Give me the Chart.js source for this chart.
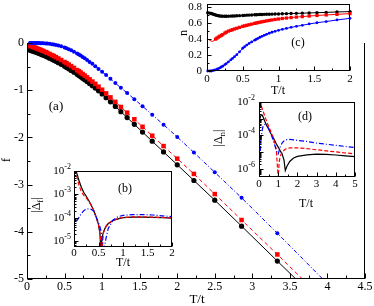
<!DOCTYPE html>
<html>
<head>
<meta charset="utf-8">
<script src="https://cdn.jsdelivr.net/npm/chart.js@4"></script>
<style>
  html, body { margin: 0; padding: 0; background: #fff; }
  #wrap { position: relative; width: 374px; height: 306px; }
  #wrap canvas { position: absolute; left: 0; top: 0; }
</style>
</head>
<body>
<div id="wrap">
  <canvas id="mainChart" width="374" height="306"></canvas>
  <canvas id="dfChart" width="374" height="306"></canvas>
  <canvas id="fillChart" width="374" height="306"></canvas>
  <canvas id="dnChart" width="374" height="306"></canvas>
</div>
<script>
/* ===============================
   DATA
================================ */
// (a) free energy f vs T/t
const tMain = [0.04, 0.06, 0.08, 0.10, 0.12, 0.14, 0.16, 0.18, 0.20, 0.22,
  0.25, 0.27, 0.30, 0.333, 0.357, 0.385, 0.417, 0.455, 0.5, 0.526,
  0.556, 0.588, 0.625, 0.667, 0.69, 0.714, 0.741, 0.769, 0.8, 0.833,
  0.87, 0.909, 0.952, 1.0, 1.053, 1.111, 1.176, 1.25, 1.333, 1.429,
  1.538, 1.667, 1.818, 2.0, 2.222, 2.5, 2.857, 3.333, 3.8, 4.2];
const fBlack = [-0.151, -0.162, -0.173, -0.185, -0.197, -0.209, -0.222, -0.235, -0.248, -0.262,
  -0.283, -0.298, -0.321, -0.346, -0.366, -0.389, -0.417, -0.451, -0.493, -0.518,
  -0.547, -0.580, -0.618, -0.664, -0.689, -0.716, -0.748, -0.781, -0.818, -0.859,
  -0.906, -0.956, -1.014, -1.08, -1.160, -1.247, -1.344, -1.455, -1.580, -1.724,
  -1.887, -2.081, -2.307, -2.58, -2.913, -3.33, -3.88, -4.62, -5.34, -5.96];
const fRed = [-0.061, -0.072, -0.083, -0.095, -0.107, -0.119, -0.132, -0.145, -0.158, -0.172,
  -0.193, -0.208, -0.231, -0.256, -0.276, -0.299, -0.327, -0.361, -0.403, -0.428,
  -0.457, -0.490, -0.528, -0.574, -0.599, -0.626, -0.658, -0.691, -0.728, -0.769,
  -0.816, -0.866, -0.924, -0.99, -1.067, -1.152, -1.247, -1.355, -1.476, -1.616,
  -1.775, -1.964, -2.184, -2.45, -2.774, -3.20, -3.75, -4.48, -5.21, -5.83];
const fBlue = [0.0, 0.0, 0.0, 0.0, -0.001, -0.001, -0.002, -0.003, -0.004, -0.006,
  -0.009, -0.012, -0.018, -0.026, -0.033, -0.042, -0.054, -0.071, -0.095, -0.111,
  -0.131, -0.155, -0.184, -0.22, -0.243, -0.267, -0.295, -0.325, -0.36, -0.40,
  -0.44, -0.49, -0.55, -0.61, -0.68, -0.76, -0.85, -0.95, -1.06, -1.19,
  -1.34, -1.52, -1.73, -1.99, -2.32, -2.74, -3.28, -4.03, -4.78, -5.42];

// (c) filling n vs T/t
const tFill = [0.01, 0.04, 0.06, 0.08, 0.10, 0.12, 0.14, 0.16, 0.18, 0.20, 0.22,
  0.25, 0.27, 0.30, 0.333, 0.357, 0.385, 0.417, 0.455, 0.5, 0.526,
  0.556, 0.588, 0.625, 0.667, 0.69, 0.714, 0.741, 0.769, 0.8, 0.833,
  0.87, 0.909, 0.952, 1.0, 1.053, 1.111, 1.176, 1.25, 1.333, 1.429,
  1.538, 1.667, 1.818, 2.0];
const nBlack = [0.73, 0.725, 0.72, 0.714, 0.708, 0.702, 0.697, 0.693, 0.69, 0.688, 0.687,
  0.686, 0.686, 0.687, 0.688, 0.689, 0.69, 0.692, 0.694, 0.696, 0.698,
  0.70, 0.701, 0.703, 0.705, 0.706, 0.707, 0.708, 0.709, 0.71, 0.711,
  0.712, 0.713, 0.714, 0.715, 0.717, 0.719, 0.721, 0.723, 0.725, 0.728,
  0.731, 0.735, 0.74, 0.745];
const nRed = [0.40, 0.385, 0.375, 0.372, 0.38, 0.40, 0.413, 0.425, 0.436, 0.447, 0.457,
  0.475, 0.487, 0.50, 0.51, 0.518, 0.527, 0.536, 0.547, 0.56, 0.566,
  0.573, 0.58, 0.588, 0.597, 0.602, 0.607, 0.612, 0.617, 0.622, 0.628,
  0.634, 0.64, 0.646, 0.652, 0.658, 0.664, 0.67, 0.676, 0.682, 0.689,
  0.696, 0.703, 0.71, 0.72];
const nBlue = [0.0, 0.0, 0.0, 0.005, 0.01, 0.015, 0.022, 0.03, 0.04, 0.05, 0.06,
  0.08, 0.093, 0.115, 0.14, 0.158, 0.18, 0.205, 0.24, 0.285, 0.305,
  0.325, 0.345, 0.365, 0.387, 0.398, 0.41, 0.423, 0.435, 0.447, 0.46,
  0.473, 0.486, 0.498, 0.51, 0.522, 0.534, 0.547, 0.56, 0.573, 0.59,
  0.605, 0.62, 0.64, 0.66];

// (b) |Delta_f| vs T/t
const tDf = [0.02, 0.05, 0.1, 0.15, 0.2, 0.25, 0.3, 0.35, 0.4, 0.45, 0.5, 0.53, 0.55,
  0.57, 0.6, 0.65, 0.7, 0.8, 0.9, 1.0, 1.2, 1.4, 1.6, 1.8, 2.0];
const dfBlack = [1.2e-2, 8.9e-3, 4e-3, 2e-3, 1.2e-3, 8.3e-4, 5.4e-4, 3.5e-4, 2.1e-4, 1.1e-4, 5e-5, 2e-5, 3e-6,
  1.3e-5, 2.4e-5, 4.2e-5, 5.6e-5, 7.6e-5, 8.9e-5, 1e-4, 1.05e-4, 1.05e-4, 1.02e-4, 1e-4, 9.5e-5];
const dfRed = [1.1e-2, 7e-3, 2.5e-3, 1.3e-3, 9e-4, 7e-4, 5e-4, 3.4e-4, 2.1e-4, 1.1e-4, 5e-5, 2.2e-5, 8e-6,
  3e-6, 2.2e-5, 4e-5, 5.5e-5, 7.8e-5, 9.2e-5, 1.02e-4, 1.08e-4, 1.08e-4, 1.05e-4, 1.02e-4, 9.8e-5];
const dfBlue = [null, 7e-5, 1e-4, 1.5e-4, 2e-4, 2.3e-4, 2.4e-4, 2.3e-4, 1.9e-4, 1.1e-4, 6e-5, 4e-5, 2.8e-5,
  1.5e-5, 3e-6, 1.2e-5, 3.5e-5, 8e-5, 1.1e-4, 1.25e-4, 1.35e-4, 1.35e-4, 1.3e-4, 1.2e-4, 1.1e-4];

// (d) |Delta_n| vs T/t
const tDn = [0.02, 0.05, 0.1, 0.15, 0.2, 0.3, 0.4, 0.5, 0.6, 0.7, 0.8, 0.9, 1.0, 1.05,
  1.1, 1.2, 1.3, 1.37, 1.45, 1.6, 1.8, 2.0, 2.5, 3.0, 3.5, 4.0, 4.5, 5.0];
const dnBlack = [8e-4, 1.1e-3, 1.6e-3, 1.7e-3, 1.4e-3, 7e-4, 4e-4, 2.5e-4, 1.4e-4, 9e-5, 5.6e-5, 3.2e-5, 2e-5, 1.6e-5,
  1.25e-5, 8e-6, 3.5e-6, 8e-7, 1.4e-6, 2.8e-6, 4.5e-6, 5.6e-6, 7e-6, 7.6e-6, 7.4e-6, 6.8e-6, 6e-6, 5.4e-6];
const dnRed = [1.25e-2, 9e-3, 6.3e-3, 4.5e-3, 3.2e-3, 1.4e-3, 7e-4, 3.5e-4, 1.9e-4, 1e-4, 4.5e-5, 1.4e-5, 3e-7, 2.5e-6,
  5.6e-6, 1e-5, 1.3e-5, 1.5e-5, 1.65e-5, 1.8e-5, 1.8e-5, 1.8e-5, 1.65e-5, 1.4e-5, 1.2e-5, 1.05e-5, 9e-6, 8e-6];
const dnBlue = [3e-6, 5e-6, 5e-5, 1.6e-4, 3.2e-4, 4.5e-4, 4e-4, 2.5e-4, 1.4e-4, 7e-5, 3.2e-5, 1.25e-5, 8e-6, 1.25e-5,
  2e-5, 3.5e-5, 4.7e-5, 5.2e-5, 5.6e-5, 5.8e-5, 5.5e-5, 5.1e-5, 4.4e-5, 3.5e-5, 3e-5, 2.6e-5, 2.2e-5, 1.9e-5];

// tick labels
const mainXTicks = [0, 0.5, 1, 1.5, 2, 2.5, 3, 3.5, 4, 4.5];
const mainYTicks = [0, -1, -2, -3, -4, -5];
const fillXTicks = [0, 0.5, 1, 1.5, 2];
const fillYTicks = [0, 0.2, 0.4, 0.6, 0.8];
const dfXTicks = [0, 0.5, 1, 1.5, 2];
const dfYExp = [-2, -3, -4, -5];
const dnXTicks = [0, 1, 2, 3, 4, 5];
const dnYExp = [-2, -4, -6];

/* ===============================
   STYLE
================================ */
const BLACK = "#000000";
const RED = "#ff0000";
const BLUE = "#0000ff";
const FONT = '"Liberation Serif", "Times New Roman", serif';

/* ===============================
   TEXT HELPERS
================================ */
function drawRich(ctx, parts, x, y, size, align) {
  const small = Math.round(size * 0.72);
  let total = 0;
  parts.forEach((p) => {
    ctx.font = `${p.sup || p.sub ? small : size}px ${FONT}`;
    p.w = ctx.measureText(p.t).width;
    total += p.w;
  });
  let cx = align === "right" ? x - total : align === "center" ? x - total / 2 : x;
  ctx.textAlign = "left";
  ctx.textBaseline = "middle";
  parts.forEach((p) => {
    ctx.font = `${p.sup || p.sub ? small : size}px ${FONT}`;
    const dy = p.sup ? -size * 0.38 : p.sub ? size * 0.3 : 0;
    ctx.fillText(p.t, cx, y + dy);
    cx += p.w;
  });
}

function drawVertical(ctx, parts, x, y, size) {
  ctx.save();
  ctx.translate(x, y);
  ctx.rotate(-Math.PI / 2);
  drawRich(ctx, parts, 0, 0, size, "center");
  ctx.restore();
}

/* ===============================
   FRAME / TICKS PLUGIN
================================ */
const framePlugin = {
  id: "frame",
  beforeDraw(chart, args, o) {
    if (!o.fill) return;
    const { ctx, chartArea: a } = chart;
    ctx.save();
    ctx.fillStyle = "#ffffff";
    ctx.fillRect(a.left, a.top, a.right - a.left, a.bottom - a.top);
    ctx.restore();
  },
  afterDraw(chart, args, o) {
    const { ctx, chartArea: a } = chart;
    const xs = chart.scales.x;
    const ys = chart.scales.y;
    const L = Math.round(a.left) + 0.5;
    const R = Math.round(a.right) - 0.5;
    const T = Math.round(a.top) + 0.5;
    const B = Math.round(a.bottom) - 0.5;

    ctx.save();
    ctx.strokeStyle = BLACK;
    ctx.lineWidth = 1;
    ctx.setLineDash([]);
    ctx.beginPath();
    if (o.sides.includes("left")) { ctx.moveTo(L, T - 0.5); ctx.lineTo(L, B + 0.5); }
    if (o.sides.includes("right")) { ctx.moveTo(R, T - 0.5); ctx.lineTo(R, B + 0.5); }
    if (o.sides.includes("top")) { ctx.moveTo(L - 0.5, T); ctx.lineTo(R + 0.5, T); }
    if (o.sides.includes("bottom")) { ctx.moveTo(L - 0.5, B); ctx.lineTo(R + 0.5, B); }

    // x ticks (inward)
    o.xTicks.forEach((v, i) => {
      const px = Math.round(xs.getPixelForValue(v)) + 0.5;
      ctx.moveTo(px, B); ctx.lineTo(px, B - o.major);
      if (i < o.xTicks.length - 1) {
        const mx = Math.round(xs.getPixelForValue((v + o.xTicks[i + 1]) / 2)) + 0.5;
        ctx.moveTo(mx, B); ctx.lineTo(mx, B - o.minor);
      }
    });

    // y ticks (inward)
    if (o.logY) {
      const lo = Math.floor(Math.log10(ys.min));
      const hi = Math.ceil(Math.log10(ys.max));
      for (let e = lo; e <= hi; e++) {
        for (let m = 1; m <= 9; m++) {
          const v = m * Math.pow(10, e);
          if (v < ys.min * 0.999 || v > ys.max * 1.001) continue;
          const py = Math.round(ys.getPixelForValue(v)) + 0.5;
          ctx.moveTo(L, py); ctx.lineTo(L + (m === 1 ? o.major : o.minor), py);
        }
      }
    } else {
      o.yTicks.forEach((v, i) => {
        const py = Math.round(ys.getPixelForValue(v)) + 0.5;
        ctx.moveTo(L, py); ctx.lineTo(L + o.major, py);
        if (i < o.yTicks.length - 1) {
          const my = Math.round(ys.getPixelForValue((v + o.yTicks[i + 1]) / 2)) + 0.5;
          ctx.moveTo(L, my); ctx.lineTo(L + o.minor, my);
        }
      });
    }
    ctx.stroke();

    // tick labels
    ctx.fillStyle = BLACK;
    ctx.font = `${o.size}px ${FONT}`;
    ctx.textAlign = "center";
    ctx.textBaseline = "top";
    o.xTicks.forEach((v) => {
      ctx.fillText(String(v), xs.getPixelForValue(v), a.bottom + o.xGap);
    });
    if (o.logY) {
      o.yTicks.forEach((e) => {
        drawRich(ctx, [{ t: "10" }, { t: String(e), sup: true }],
          a.left - o.yGap, ys.getPixelForValue(Math.pow(10, e)), o.size, "right");
      });
    } else {
      ctx.textAlign = "right";
      ctx.textBaseline = "middle";
      o.yTicks.forEach((v) => {
        ctx.fillText(String(v), a.left - o.yGap, ys.getPixelForValue(v));
      });
    }

    // titles and panel tag
    drawRich(ctx, [{ t: "T/t" }], o.xTitle[0], o.xTitle[1], o.titleSize, "center");
    drawVertical(ctx, o.yTitle.parts, o.yTitle.x, o.yTitle.y, o.titleSize);
    drawRich(ctx, [{ t: o.tag[0] }], o.tag[1], o.tag[2], o.titleSize, "center");
    ctx.restore();
  },
};

/* ===============================
   CHART BUILDERS
================================ */
function series(ts, vals, color, dash, width, pt) {
  return {
    data: ts.map((t, i) => ({ x: t, y: vals[i] })),
    borderColor: color,
    backgroundColor: color,
    pointBackgroundColor: color,
    borderWidth: width,
    borderDash: dash,
    pointStyle: pt.style || "circle",
    pointRadius: pt.radius || 0,
    pointBorderWidth: 0,
    tension: 0,
    spanGaps: false,
    clip: pt.clip === undefined ? 0 : pt.clip,
  };
}

function makeChart(id, datasets, xScale, yScale, padding, frame) {
  return new Chart(document.getElementById(id), {
    type: "line",
    data: { datasets },
    options: {
      responsive: false,
      animation: false,
      devicePixelRatio: 1,
      events: [],
      layout: { padding },
      scales: {
        x: { type: "linear", display: false, ...xScale },
        y: { display: false, ...yScale },
      },
      plugins: {
        legend: { display: false },
        tooltip: { enabled: false },
        frame,
      },
    },
    plugins: [framePlugin],
  });
}

/* ===============================
   (a) MAIN PANEL
================================ */
const mainClip = { left: 4, top: 4, right: 0, bottom: 0 };
const markerUpTo = (r) => (c) => (tMain[c.dataIndex] > 3.5 ? 0 : r);
makeChart("mainChart", [
  series(tMain, fBlue, BLUE, [4, 2, 1, 2], 1, { radius: markerUpTo(2.0), clip: mainClip }),
  series(tMain, fRed, RED, [4, 3], 1, { style: "rect", radius: markerUpTo(3.2), clip: mainClip }),
  series(tMain, fBlack, BLACK, [], 1, { radius: markerUpTo(2.6), clip: mainClip }),
], { min: 0, max: 4.5 }, { type: "linear", min: -5, max: 0 },
{ left: 27, top: 43, right: 9, bottom: 27 },
{
  fill: false, sides: ["left", "bottom", "right"],
  xTicks: mainXTicks, yTicks: mainYTicks, logY: false,
  major: 5, minor: 3, size: 12, xGap: 2, yGap: 3, titleSize: 13,
  xTitle: [197, 300], yTitle: { parts: [{ t: "f" }], x: 7, y: 160 },
  tag: ["(a)", 56, 107],
});

/* ===============================
   (b) |Delta_f| INSET
================================ */
makeChart("dfChart", [
  series(tDf, dfBlue, BLUE, [5, 2, 1, 2], 1.2, {}),
  series(tDf, dfRed, RED, [4, 2], 1.2, {}),
  series(tDf, dfBlack, BLACK, [], 1.2, {}),
], { min: 0, max: 2 }, { type: "logarithmic", min: 5.5e-6, max: 1e-2 },
{ left: 74, top: 171, right: 202, bottom: 59 },
{
  fill: true, sides: ["left", "bottom", "right", "top"],
  xTicks: dfXTicks, yTicks: dfYExp, logY: true,
  major: 4, minor: 2, size: 11, xGap: 1, yGap: 3, titleSize: 12,
  xTitle: [123, 263], yTitle: { parts: [{ t: "|Δ" }, { t: "f", sub: true }, { t: "|" }], x: 37, y: 205 },
  tag: ["(b)", 125, 189],
});

/* ===============================
   (c) FILLING INSET
================================ */
makeChart("fillChart", [
  series(tFill, nBlue, BLUE, [], 1, { radius: 1.4, clip: 3 }),
  series(tFill, nRed, RED, [], 1, { style: "rect", radius: (c) => (tFill[c.dataIndex] < 0.11 ? 0 : 2.3), clip: 3 }),
  series(tFill, nBlack, BLACK, [], 1, { radius: 1.7, clip: 3 }),
], { min: 0, max: 2 }, { type: "linear", min: 0, max: 0.84 },
{ left: 207, top: 1, right: 24, bottom: 235 },
{
  fill: true, sides: ["left", "bottom", "right", "top"],
  xTicks: fillXTicks, yTicks: fillYTicks, logY: false,
  major: 4, minor: 2, size: 11, xGap: 3, yGap: 5, titleSize: 12,
  xTitle: [278, 91], yTitle: { parts: [{ t: "n" }], x: 184, y: 33 },
  tag: ["(c)", 298, 43],
});

/* ===============================
   (d) |Delta_n| INSET
================================ */
makeChart("dnChart", [
  series(tDn, dnBlue, BLUE, [5, 2, 1, 2], 1.2, {}),
  series(tDn, dnRed, RED, [4, 2], 1.2, {}),
  series(tDn, dnBlack, BLACK, [], 1.2, {}),
], { min: 0, max: 5 }, { type: "logarithmic", min: 3.3e-7, max: 1e-2 },
{ left: 259, top: 102, right: 19, bottom: 129 },
{
  fill: true, sides: ["left", "bottom", "right", "top"],
  xTicks: dnXTicks, yTicks: dnYExp, logY: true,
  major: 4, minor: 2, size: 11, xGap: 2, yGap: 4, titleSize: 12,
  xTitle: [306, 204], yTitle: { parts: [{ t: "|Δ" }, { t: "n", sub: true }, { t: "|" }], x: 219, y: 138 },
  tag: ["(d)", 305, 117],
});
</script>
</body>
</html>
